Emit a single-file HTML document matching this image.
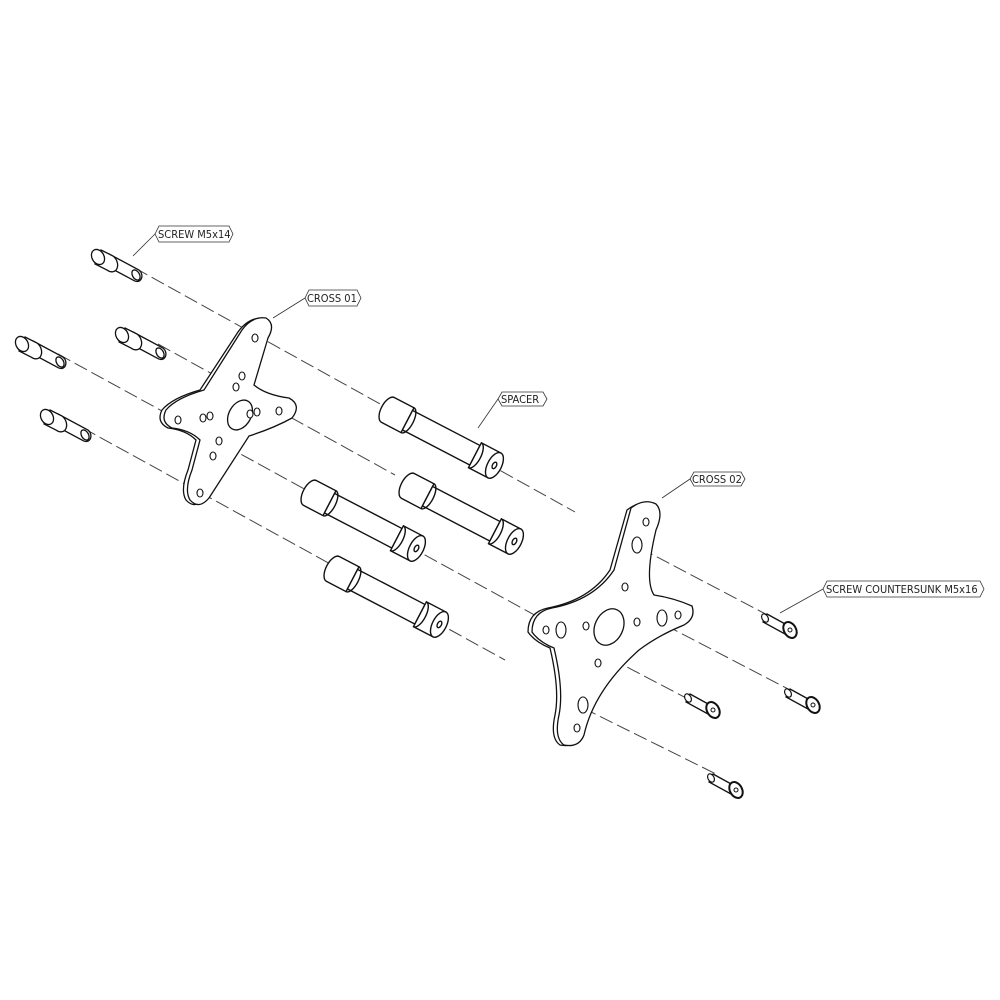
<!DOCTYPE html>
<html><head><meta charset="utf-8"><style>body{margin:0;background:#fff}svg{display:block}text{font-family:"DejaVu Sans Condensed","Liberation Sans",sans-serif;font-size:11px;fill:#222}</style></head>
<body>
<svg width="1000" height="1000" viewBox="0 0 1000 1000" xmlns="http://www.w3.org/2000/svg">
<defs>
<g id="screw">
 <path d="M-4,-6 L26,10 A5,6 -30 0 1 20,20 L-10,4 Z" fill="#fff" stroke="#111" stroke-width="1.3"/>
 <ellipse cx="23" cy="15" rx="3.5" ry="5.5" transform="rotate(-30 23 15)" fill="#fff" stroke="#111" stroke-width="1.3"/>
 <path d="M-12,-10 L0,-4 A6,8 -30 0 1 -6,10 L-18,4 Z" fill="#fff" stroke="#111" stroke-width="1.3"/>
 <ellipse cx="-15" cy="-3" rx="6" ry="8" transform="rotate(-30 -15 -3)" fill="#fff" stroke="#111" stroke-width="1.3"/>
</g>
<g id="cs">
 <path d="M-10,-6 L10,5 L8,14 L-14,2 Z" fill="#fff" stroke="#111" stroke-width="1.3"/>
 <ellipse cx="-12" cy="-2" rx="3" ry="4.5" transform="rotate(-30 -12 -2)" fill="#fff" stroke="#111" stroke-width="1.2"/>
 <ellipse cx="13" cy="10" rx="6" ry="8.5" transform="rotate(-30 13 10)" fill="#fff" stroke="#111" stroke-width="2"/>
 <circle cx="13" cy="10" r="2" fill="#fff" stroke="#111"/>
</g>
<g id="spacer" stroke="#111" stroke-width="1.4" fill="#fff">
 <path d="M0,-14 L22,-14 L22,14 L0,14 A7,14 0 0 1 0,-14 Z"/>
 <path d="M22,-11 L98,-11 L98,11 L22,11 Z"/>
 <path d="M22,-14 A6,14 0 0 1 22,14" fill="none"/>
 <path d="M98,-14 L120,-14 L120,14 L98,14 Z"/>
 <path d="M98,-14 A6,14 0 0 1 98,14" fill="none"/>
 <ellipse cx="120" cy="0" rx="7" ry="14"/>
 <ellipse cx="120" cy="0" rx="2" ry="3.5"/>
</g>
</defs>
<g stroke="#444" stroke-width="1" stroke-dasharray="14,5" fill="none">
 <line x1="135" y1="268" x2="575" y2="512"/>
 <line x1="158" y1="344" x2="395" y2="475"/>
 <line x1="58" y1="354" x2="540" y2="618"/>
 <line x1="83" y1="428" x2="505" y2="660"/>
 <line x1="640" y1="548" x2="777" y2="620"/>
 <line x1="560" y1="632" x2="690" y2="700"/>
 <line x1="665" y1="625" x2="790" y2="690"/>
 <line x1="583" y1="708" x2="718" y2="775"/>
</g>
<use href="#screw" transform="translate(113,260)"/>
<use href="#screw" transform="translate(137,338)"/>
<use href="#screw" transform="translate(37,347)"/>
<use href="#screw" transform="translate(62,420)"/>
<g stroke="#111" stroke-width="1.3" fill="#fff">
 <path d="M238,332 Q248,318 262,318 Q272,322 264,338 L250,385 Q262,395 285,398 Q298,405 288,418 Q270,428 245,436 L205,498 Q195,510 186,500 Q180,490 188,470 L196,440 Q186,430 168,428 Q156,422 162,410 Q172,398 200,390 Z"/>
 <path d="M242,330 Q252,316 266,318 Q276,324 268,338 L254,385 Q266,395 289,398 Q302,405 292,418 Q274,428 249,436 L209,498 Q199,510 190,500 Q184,490 192,470 L200,440 Q190,430 172,428 Q160,422 166,410 Q176,398 204,390 Z"/>
 <ellipse cx="240" cy="415" rx="11" ry="16" transform="rotate(30 240 415)"/>
 <g stroke-width="1.1">
 <ellipse cx="255" cy="338" rx="3" ry="4"/><ellipse cx="178" cy="420" rx="3" ry="4"/>
 <ellipse cx="279" cy="411" rx="3" ry="4"/><ellipse cx="200" cy="493" rx="3" ry="4"/>
 <ellipse cx="242" cy="376" rx="3" ry="4"/><ellipse cx="236" cy="387" rx="3" ry="4"/>
 <ellipse cx="203" cy="418" rx="3" ry="4"/><ellipse cx="210" cy="416" rx="3" ry="4"/>
 <ellipse cx="250" cy="414" rx="3" ry="4"/><ellipse cx="257" cy="412" rx="3" ry="4"/>
 <ellipse cx="219" cy="441" rx="3" ry="4"/><ellipse cx="213" cy="456" rx="3" ry="4"/>
 </g>
</g>
<use href="#spacer" transform="translate(388,410) rotate(27.5)"/>
<use href="#spacer" transform="translate(408,486) rotate(27.5)"/>
<use href="#spacer" transform="translate(310,493) rotate(27.5)"/>
<use href="#spacer" transform="translate(333,569) rotate(27.5)"/>
<g stroke="#111" stroke-width="1.3" fill="#fff">
 <path d="M627,510 Q640,500 652,504 Q660,512 652,530 Q640,580 650,595 Q670,598 688,606 Q692,618 680,625 Q655,635 635,650 Q590,690 580,735 Q575,748 560,745 Q550,738 555,715 Q560,690 550,648 Q535,642 528,632 Q528,612 548,608 Q590,600 610,570 Z"/>
 <path d="M631,508 Q644,498 656,504 Q664,512 656,530 Q644,580 654,595 Q674,598 692,606 Q696,618 684,625 Q659,635 639,650 Q594,690 584,735 Q579,748 564,745 Q554,738 559,715 Q564,690 554,648 Q539,642 532,632 Q532,612 552,608 Q594,600 614,570 Z"/>
 <ellipse cx="609" cy="627" rx="14" ry="19" transform="rotate(25 609 627)"/>
 <g stroke-width="1.1">
 <ellipse cx="646" cy="522" rx="3" ry="4"/><ellipse cx="637" cy="545" rx="5" ry="8"/>
 <ellipse cx="625" cy="587" rx="3" ry="4"/><ellipse cx="586" cy="626" rx="3" ry="4"/>
 <ellipse cx="637" cy="622" rx="3" ry="4"/><ellipse cx="662" cy="618" rx="5" ry="8"/>
 <ellipse cx="678" cy="615" rx="3" ry="4"/><ellipse cx="546" cy="630" rx="3" ry="4"/>
 <ellipse cx="561" cy="630" rx="5" ry="8"/><ellipse cx="598" cy="663" rx="3" ry="4"/>
 <ellipse cx="583" cy="705" rx="5" ry="8"/><ellipse cx="577" cy="728" rx="3" ry="4"/>
 </g>
</g>
<use href="#cs" transform="translate(777,620)"/>
<use href="#cs" transform="translate(700,700)"/>
<use href="#cs" transform="translate(800,695)"/>
<use href="#cs" transform="translate(723,780)"/>
<g stroke="#333" stroke-width="0.8" fill="#fff">
 <path d="M159,226 L229,226 L233,234 L229,242 L159,242 L155,234 Z"/>
 <path d="M309,290 L357,290 L361,298 L357,306 L309,306 L305,298 Z"/>
 <path d="M502,392 L543,392 L547,399 L543,406 L502,406 L498,399 Z"/>
 <path d="M694,472 L741,472 L745,479 L741,486 L694,486 L690,479 Z"/>
 <path d="M827,581 L980,581 L984,589 L980,597 L827,597 L823,589 Z"/>
 <line x1="155" y1="234" x2="133" y2="256"/>
 <line x1="305" y1="298" x2="273" y2="318"/>
 <line x1="498" y1="399" x2="478" y2="428"/>
 <line x1="690" y1="479" x2="662" y2="498"/>
 <line x1="823" y1="589" x2="780" y2="613"/>
</g>
<text x="158" y="238">SCREW M5x14</text>
<text x="307" y="302">CROSS 01</text>
<text x="501" y="403">SPACER</text>
<text x="692" y="483">CROSS 02</text>
<text x="826" y="593">SCREW COUNTERSUNK M5x16</text>
</svg>
</body></html>
